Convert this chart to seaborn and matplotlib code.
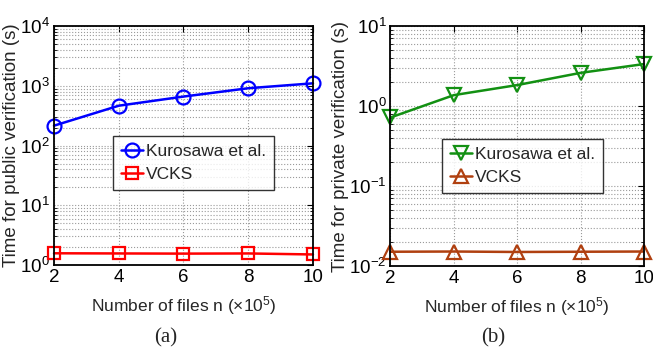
import matplotlib
matplotlib.use("Agg")
import matplotlib.pyplot as plt
import seaborn as sns
import numpy as np
from matplotlib.ticker import LogLocator, NullFormatter, FixedLocator

# ---- data ----
files_n = [2, 4, 6, 8, 10]
public_kurosawa = [215, 464, 660, 910, 1100]
public_vcks = [1.57, 1.56, 1.55, 1.56, 1.50]
private_kurosawa = [0.72, 1.37, 1.83, 2.6, 3.35]
private_vcks = [0.0151, 0.0152, 0.0150, 0.0151, 0.0152]
series_names = ["Kurosawa et al.", "VCKS"]
xlabel = "Number of files n ($\\times$10$^5$)"
ylabels = ["Time for public verification (s)", "Time for private verification (s)"]
panel_labels = ["(a)", "(b)"]

sns.set_theme(style="white")
plt.rcParams["font.family"] = ["Liberation Sans", "DejaVu Sans"]
plt.rcParams["mathtext.fontset"] = "custom"
plt.rcParams["mathtext.rm"] = "Liberation Sans"
plt.rcParams["mathtext.it"] = "Liberation Sans:italic"
plt.rcParams["mathtext.bf"] = "Liberation Sans:bold"
plt.rcParams["mathtext.fallback"] = "cm"

fig = plt.figure(figsize=(6.53, 3.62), dpi=100)
axA = fig.add_axes([0.0827, 0.268, 0.3966, 0.660])
axB = fig.add_axes([0.598, 0.265, 0.388, 0.663])

def style_axes(ax, ymin, ymax):
    ax.set_yscale("log")
    ax.set_ylim(ymin, ymax)
    ax.set_xlim(2, 10)
    ax.xaxis.set_major_locator(FixedLocator(files_n))
    ax.yaxis.set_major_locator(LogLocator(base=10, numticks=10))
    ax.yaxis.set_minor_locator(LogLocator(base=10, subs=np.arange(2, 10), numticks=20))
    ax.yaxis.set_minor_formatter(NullFormatter())
    ax.xaxis.grid(True, which="major", linestyle=":", color="#9a9a9a", linewidth=0.8)
    ax.yaxis.grid(True, which="both", linestyle=":", color="#9a9a9a", linewidth=0.8)
    ax.tick_params(which="both", direction="in", top=True, right=True, colors="black",
                   labelsize=13.5, pad=3)
    ax.tick_params(which="major", length=4, width=0.8)
    ax.tick_params(which="minor", length=2, width=0.6, left=True, right=True)
    for s in ax.spines.values():
        s.set_color("black")
        s.set_linewidth(1.3)
    ax.set_xlabel(xlabel, fontsize=12.5, labelpad=6)

def draw(ax, ys, colors, markers, sizes):
    for name, y, c, m, ms in zip(series_names, ys, colors, markers, sizes):
        sns.lineplot(x=files_n, y=y, ax=ax, color=c, marker=m, markersize=ms,
                     markerfacecolor="none", markeredgecolor=c, markeredgewidth=1.6,
                     linewidth=1.8, label=name, clip_on=False)

def legend(ax, anchor):
    leg = ax.legend(loc="upper left", bbox_to_anchor=anchor, borderaxespad=0,
                    fontsize=12.5, frameon=True, fancybox=False, edgecolor="black",
                    handlelength=1.3, handletextpad=0.15, borderpad=0.45, labelspacing=0.45)
    leg.get_frame().set_linewidth(1.0)

draw(axA, [public_kurosawa, public_vcks], ["#0000ff", "#ff0000"], ["o", "s"], [10, 8])
style_axes(axA, 1, 1e4)
axA.set_ylabel(ylabels[0], fontsize=13.5, labelpad=0)
legend(axA, (0.228, 0.54))

draw(axB, [private_kurosawa, private_vcks], ["#129012", "#b04010"], ["v", "^"], [10, 10])
style_axes(axB, 1e-2, 10)
axB.set_ylabel(ylabels[1], fontsize=13.5, labelpad=0)
legend(axB, (0.2025, 0.529))

fig.text(166 / 653, 1 - 338 / 362, panel_labels[0], ha="center", va="center",
         fontsize=15, family=["Liberation Serif", "DejaVu Serif"])
fig.text(493 / 653, 1 - 338 / 362, panel_labels[1], ha="center", va="center",
         fontsize=15, family=["Liberation Serif", "DejaVu Serif"])

fig.savefig("out.png", dpi=100, facecolor="white")
